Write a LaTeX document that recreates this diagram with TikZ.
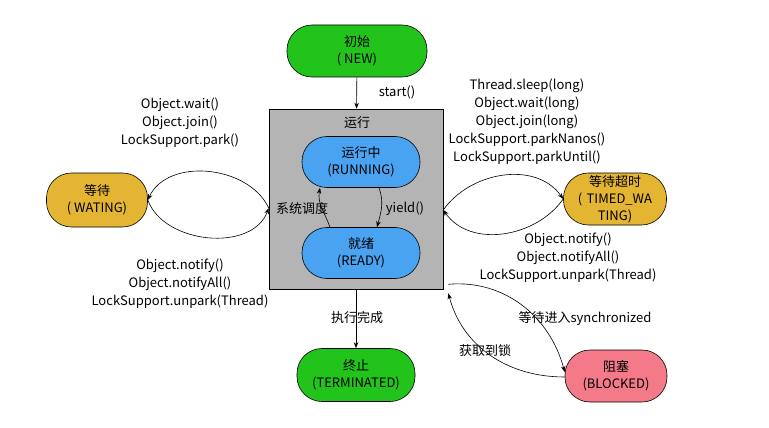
\documentclass[tikz,border=0pt]{standalone}
\usepackage{fontspec}
\setmainfont{Noto Sans CJK SC}
\usetikzlibrary{arrows.meta}
\definecolor{cgreen}{RGB}{34,196,28}
\definecolor{cgold}{RGB}{228,181,50}
\definecolor{cblue}{RGB}{74,163,240}
\definecolor{cpink}{RGB}{244,122,138}
\definecolor{cgray}{RGB}{180,180,180}
\begin{document}
\begin{tikzpicture}[x=1pt,y=-1pt,
  every node/.style={font=\fontsize{13}{17}\selectfont, align=center},
  state/.style={draw=black, line width=0.6pt, rounded corners=25pt, minimum height=52pt, inner sep=0pt},
  lbl/.style={font=\fontsize{13}{18}\selectfont, align=center, inner sep=0pt},
  conn/.style={draw=black, line width=0.6pt, -{Stealth[length=6pt,width=4.5pt]}}
]
\useasboundingbox (0,0) rectangle (769,428);
% states
\node[state, fill=cgreen, minimum width=140pt] (new) at (357,51) {初始\\( NEW)};
\node[draw=black, line width=0.6pt, fill=cgray, minimum width=174pt, minimum height=180pt, inner sep=0pt] (box) at (356,199) {};
\node[lbl] (boxlbl) at (357,123) {运行};
\node[state, fill=cblue, minimum width=118pt, minimum height=51pt] (run) at (361,162) {运行中\\(RUNNING)};
\node[state, fill=cblue, minimum width=118pt, minimum height=51pt] (ready) at (361,253) {就绪\\(READY)};
\node[state, fill=cgold, minimum width=101pt, minimum height=54pt] (wat) at (97,200) {等待\\( WATING)};
\node[state, fill=cgold, minimum width=103pt, text width=100pt] (tim) at (615,199) {等待超时\\( TIMED\_WA\\TING)};
\node[state, fill=cgreen, minimum width=118pt, minimum height=53pt] (term) at (356,375) {终止\\(TERMINATED)};
\node[state, fill=cpink, minimum width=102pt] (blk) at (616,376) {阻塞\\(BLOCKED)};
% coordinates
\coordinate (bl) at ([yshift=-9pt]box.west);
\coordinate (br) at ([yshift=-11pt]box.east);
\coordinate (runL) at ([xshift=-41pt]run.south);
\coordinate (runR) at ([xshift=18pt]run.south);
\coordinate (rdyL) at ([xshift=-31pt]ready.north);
\coordinate (rdyR) at ([xshift=16pt]ready.north);
\coordinate (syncS) at ([xshift=5pt,yshift=5pt]box.south east);
\coordinate (lockE) at ([xshift=5pt,yshift=-4pt]box.south east);
% connectors
\draw[conn] (new) -- (box);
\draw[conn] (runR) to[out=-70,in=75] (rdyR);
\draw[conn] (rdyL) to[out=110,in=-100] (runL);
\draw[conn] (bl) to[out=115,in=65] (wat.east);
\draw[conn] (wat.east) to[out=-70,in=-110] (bl);
\draw[conn] (br) to[out=55,in=125] (tim.west);
\draw[conn] (tim.west) to[out=-125,in=-55] (br);
\draw[conn] (box) -- (term);
\draw[conn] (syncS) to[out=5,in=105] ([yshift=4pt]blk.west);
\draw[conn] ([yshift=-1pt]blk.west) to[out=180,in=-75] (lockE);
% labels
\node[lbl] (lstart) at (397,92) {start()};
\node[lbl] (lsys) at (302,209) {系统调度};
\node[lbl] (lyield) at (405,209) {yield()};
\node[lbl] (lwait) at (180,123) {Object.wait()\\Object.join()\\LockSupport.park()};
\node[lbl] (lnotl) at (180,284) {Object.notify()\\Object.notifyAll()\\LockSupport.unpark(Thread)};
\node[lbl] (lsleep) at (527,121.5) {Thread.sleep(long)\\Object.wait(long)\\Object.join(long)\\LockSupport.parkNanos()\\LockSupport.parkUntil()};
\node[lbl] (lnotr) at (568,258) {Object.notify()\\Object.notifyAll()\\LockSupport.unpark(Thread)};
\node[lbl] (ldone) at (357,318) {执行完成};
\node[lbl] (lsync) at (585,319) {等待进入synchronized};
\node[lbl] (llock) at (485,351) {获取到锁};
\end{tikzpicture}
\end{document}
